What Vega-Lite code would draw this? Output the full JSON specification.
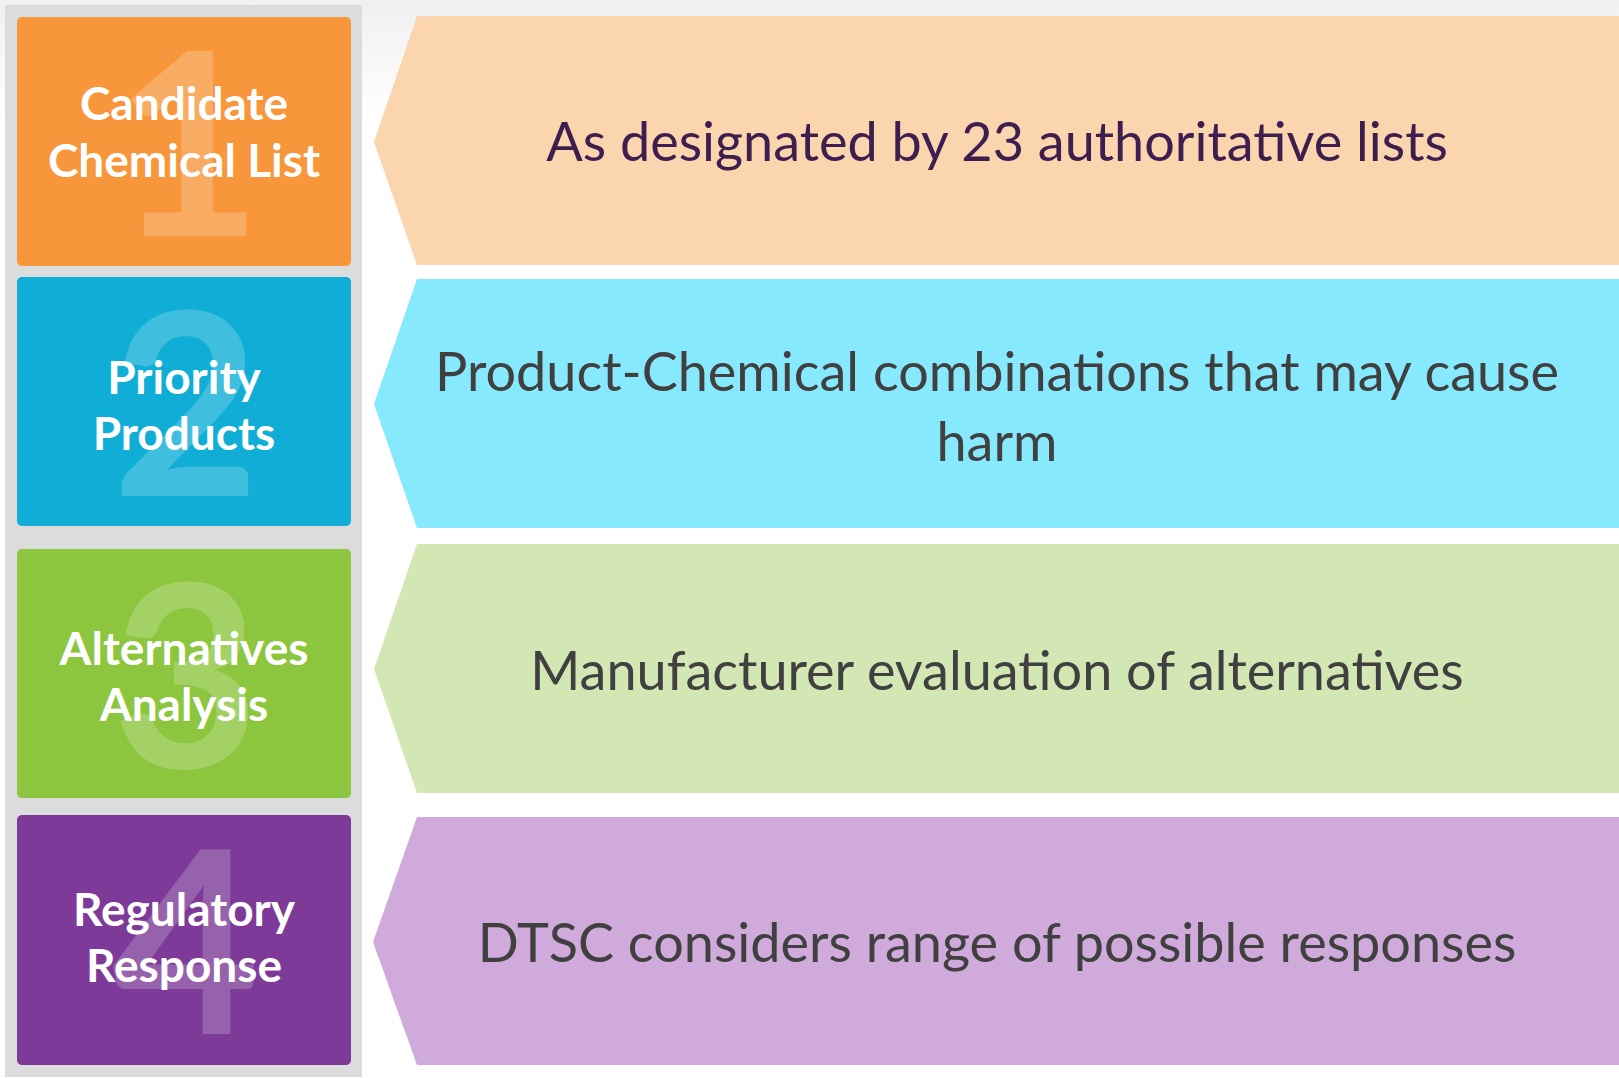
{
  "$schema": "https://vega.github.io/schema/vega-lite/v6.json",
  "autosize": {"type": "none"},
  "width": 1619,
  "height": 1078,
  "padding": 0,
  "background": "#ffffff",
  "config": {"view": {"stroke": null}, "axis": {"disable": true}},
  "datasets": {
    "bg": [{"x0": 0, "x1": 1619, "y0": 0, "y1": 120}],
    "panel": [{"x0": 5, "x1": 362, "y0": 5, "y1": 1077}],
    "squares": [
      {"step": "1", "x0": 17, "x1": 351, "y0": 17, "y1": 266},
      {"step": "2", "x0": 17, "x1": 351, "y0": 277, "y1": 526},
      {"step": "3", "x0": 17, "x1": 351, "y0": 549, "y1": 798},
      {"step": "4", "x0": 17, "x1": 351, "y0": 815, "y1": 1065}
    ],
    "digits": [
      {"step": "1", "x": 188, "y": 159},
      {"step": "2", "x": 186, "y": 419},
      {"step": "3", "x": 186, "y": 691},
      {"step": "4", "x": 186, "y": 957}
    ],
    "labels": [
      {"step": "1", "x": 184, "y": 106, "text": "Candidate"},
      {"step": "1", "x": 184, "y": 163, "text": "Chemical List"},
      {"step": "2", "x": 184, "y": 380, "text": "Priority"},
      {"step": "2", "x": 184, "y": 436, "text": "Products"},
      {"step": "3", "x": 184, "y": 651, "text": "Alternatives"},
      {"step": "3", "x": 184, "y": 707, "text": "Analysis"},
      {"step": "4", "x": 184, "y": 912, "text": "Regulatory"},
      {"step": "4", "x": 184, "y": 968, "text": "Response"}
    ],
    "chevrons": [
      {"step": "1", "x": 374, "top": 142, "bottom": 142},
      {"step": "1", "x": 417, "top": 16, "bottom": 265},
      {"step": "1", "x": 1619, "top": 16, "bottom": 265},
      {"step": "2", "x": 374, "top": 404, "bottom": 404},
      {"step": "2", "x": 417, "top": 279, "bottom": 528},
      {"step": "2", "x": 1619, "top": 279, "bottom": 528},
      {"step": "3", "x": 374, "top": 669, "bottom": 669},
      {"step": "3", "x": 417, "top": 544, "bottom": 793},
      {"step": "3", "x": 1619, "top": 544, "bottom": 793},
      {"step": "4", "x": 373, "top": 942, "bottom": 942},
      {"step": "4", "x": 417, "top": 817, "bottom": 1065},
      {"step": "4", "x": 1619, "top": 817, "bottom": 1065}
    ],
    "desc": [
      {"step": "1", "x": 997, "y": 145, "text": "As designated by 23 authoritative lists"},
      {"step": "2", "x": 997, "y": 375, "text": "Product-Chemical combinations that may cause"},
      {"step": "2", "x": 997, "y": 445, "text": "harm"},
      {"step": "3", "x": 997, "y": 674, "text": "Manufacturer evaluation of alternatives"},
      {"step": "4", "x": 997, "y": 946, "text": "DTSC considers range of possible responses"}
    ]
  },
  "layer": [
    {
      "data": {"name": "bg"},
      "mark": {"type": "rect", "color": {"gradient": "linear", "x1": 0, "y1": 0, "x2": 0, "y2": 1, "stops": [{"offset": 0, "color": "#f0f0f0"}, {"offset": 1, "color": "#ffffff"}]}},
      "encoding": {
        "x": {"field": "x0", "type": "quantitative", "scale": {"domain": [0, 1619], "nice": false, "zero": false}},
        "x2": {"field": "x1"},
        "y": {"field": "y0", "type": "quantitative", "scale": {"domain": [0, 1078], "nice": false, "zero": false, "reverse": true}},
        "y2": {"field": "y1"}
      }
    },
    {
      "data": {"name": "panel"},
      "mark": {"type": "rect", "color": "#dcdcdc"},
      "encoding": {
        "x": {"field": "x0", "type": "quantitative"},
        "x2": {"field": "x1"},
        "y": {"field": "y0", "type": "quantitative"},
        "y2": {"field": "y1"}
      }
    },
    {
      "data": {"name": "squares"},
      "mark": {"type": "rect", "cornerRadius": 5},
      "encoding": {
        "x": {"field": "x0", "type": "quantitative"},
        "x2": {"field": "x1"},
        "y": {"field": "y0", "type": "quantitative"},
        "y2": {"field": "y1"},
        "color": {"field": "step", "type": "nominal", "legend": null, "scale": {"domain": ["1", "2", "3", "4"], "range": ["#f7963b", "#10aed6", "#8cc63e", "#7d3a98"]}}
      }
    },
    {
      "data": {"name": "digits"},
      "mark": {"type": "text", "font": "Lato", "fontWeight": "bold", "fontSize": 255, "color": "#ffffff", "opacity": 0.2, "align": "center", "baseline": "middle"},
      "encoding": {
        "x": {"field": "x", "type": "quantitative"},
        "y": {"field": "y", "type": "quantitative"},
        "text": {"field": "step"}
      }
    },
    {
      "data": {"name": "labels"},
      "mark": {"type": "text", "font": "Lato", "fontWeight": "bold", "fontSize": 46, "color": "#ffffff", "align": "center", "baseline": "middle"},
      "encoding": {
        "x": {"field": "x", "type": "quantitative"},
        "y": {"field": "y", "type": "quantitative"},
        "text": {"field": "text"}
      }
    },
    {
      "data": {"name": "chevrons"},
      "mark": {"type": "area", "orient": "vertical", "interpolate": "linear"},
      "encoding": {
        "x": {"field": "x", "type": "quantitative"},
        "y": {"field": "top", "type": "quantitative"},
        "y2": {"field": "bottom"},
        "detail": {"field": "step"},
        "color": {"field": "step", "type": "nominal", "legend": null, "scale": {"domain": ["1", "2", "3", "4"], "range": ["#fbd5ae", "#87e9fe", "#d3e7b5", "#cfaadb"]}}
      }
    },
    {
      "data": {"name": "desc"},
      "mark": {"type": "text", "font": "Lato", "fontSize": 54, "align": "center", "baseline": "middle"},
      "encoding": {
        "x": {"field": "x", "type": "quantitative"},
        "y": {"field": "y", "type": "quantitative"},
        "text": {"field": "text"},
        "color": {"field": "step", "type": "nominal", "legend": null, "scale": {"domain": ["1", "2", "3", "4"], "range": ["#3e1d4f", "#404040", "#404040", "#404040"]}}
      }
    }
  ],
  "resolve": {"scale": {"color": "independent"}}
}
